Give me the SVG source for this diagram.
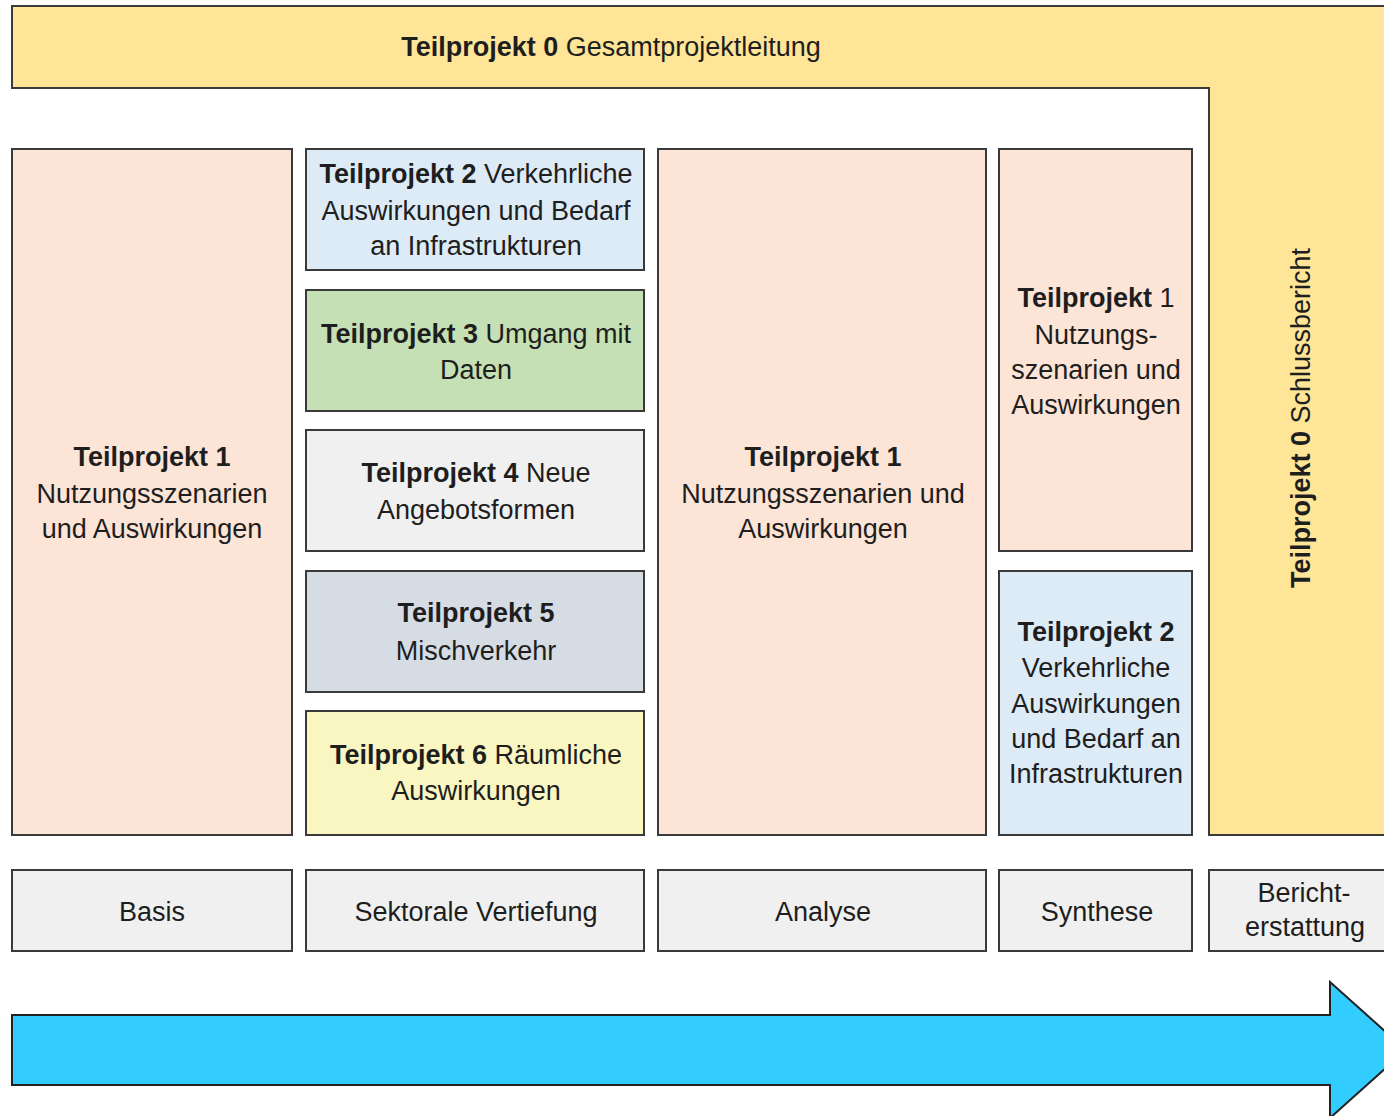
<svg xmlns="http://www.w3.org/2000/svg" width="1384" height="1116" viewBox="0 0 1384 1116">
<style>
text{font-family:"Liberation Sans",Arial,sans-serif;font-size:27px;fill:#1e1e1e;text-anchor:middle}
.b{font-weight:bold}
.box{stroke:#3a3a3a;stroke-width:2}
.peach{fill:#FCE4D6}
.blue{fill:#DDEBF7}
.green{fill:#C5E0B4}
.gray{fill:#F0F0F0}
.slate{fill:#D6DCE4}
.lyel{fill:#FAF6C2}
.yel{fill:#FFE597}
</style>
<rect width="1384" height="1116" fill="#fff"/>
<g id="tp0">
<path d="M1390 6 H12 V88 H1209 V835 H1390" class="box yel"/>
<text x="611" y="56"><tspan class="b">Teilprojekt 0</tspan> Gesamtprojektleitung</text>
<text transform="translate(1310 418) rotate(-90)" x="0" y="0"><tspan class="b">Teilprojekt 0</tspan> Schlussbericht</text>
</g>
<g id="tp1a">
<rect x="12" y="149" width="280" height="686" class="box peach"/>
<text x="152" y="466" class="b">Teilprojekt 1</text>
<text x="152" y="503">Nutzungsszenarien</text>
<text x="152" y="538">und Auswirkungen</text>
</g>
<g id="tp2a">
<rect x="306" y="149" width="338" height="121" class="box blue"/>
<text x="476" y="183"><tspan class="b">Teilprojekt 2</tspan> Verkehrliche</text>
<text x="476" y="220">Auswirkungen und Bedarf</text>
<text x="476" y="255">an Infrastrukturen</text>
</g>
<g id="tp3">
<rect x="306" y="290" width="338" height="121" class="box green"/>
<text x="476" y="343"><tspan class="b">Teilprojekt 3</tspan> Umgang mit</text>
<text x="476" y="379">Daten</text>
</g>
<g id="tp4">
<rect x="306" y="430" width="338" height="121" class="box gray"/>
<text x="476" y="482"><tspan class="b">Teilprojekt 4</tspan> Neue</text>
<text x="476" y="519">Angebotsformen</text>
</g>
<g id="tp5">
<rect x="306" y="571" width="338" height="121" class="box slate"/>
<text x="476" y="622" class="b">Teilprojekt 5</text>
<text x="476" y="660">Mischverkehr</text>
</g>
<g id="tp6">
<rect x="306" y="711" width="338" height="124" class="box lyel"/>
<text x="476" y="764"><tspan class="b">Teilprojekt 6</tspan> Räumliche</text>
<text x="476" y="800">Auswirkungen</text>
</g>
<g id="tp1b">
<rect x="658" y="149" width="328" height="686" class="box peach"/>
<text x="823" y="466" class="b">Teilprojekt 1</text>
<text x="823" y="503">Nutzungsszenarien und</text>
<text x="823" y="538">Auswirkungen</text>
</g>
<g id="tp1c">
<rect x="999" y="149" width="193" height="402" class="box peach"/>
<text x="1096" y="307"><tspan class="b">Teilprojekt</tspan> 1</text>
<text x="1096" y="344">Nutzungs-</text>
<text x="1096" y="379">szenarien und</text>
<text x="1096" y="414">Auswirkungen</text>
</g>
<g id="tp2b">
<rect x="999" y="571" width="193" height="264" class="box blue"/>
<text x="1096" y="641" class="b">Teilprojekt 2</text>
<text x="1096" y="677">Verkehrliche</text>
<text x="1096" y="713">Auswirkungen</text>
<text x="1096" y="748">und Bedarf an</text>
<text x="1096" y="783">Infrastrukturen</text>
</g>
<g id="phase-basis">
<rect x="12" y="870" width="280" height="81" class="box gray"/>
<text x="152" y="921">Basis</text>
</g>
<g id="phase-sektorale">
<rect x="306" y="870" width="338" height="81" class="box gray"/>
<text x="476" y="921">Sektorale Vertiefung</text>
</g>
<g id="phase-analyse">
<rect x="658" y="870" width="328" height="81" class="box gray"/>
<text x="823" y="921">Analyse</text>
</g>
<g id="phase-synthese">
<rect x="999" y="870" width="193" height="81" class="box gray"/>
<text x="1097" y="921">Synthese</text>
</g>
<g id="phase-bericht">
<rect x="1209" y="870" width="190" height="81" class="box gray"/>
<text x="1304" y="902">Bericht-</text>
<text x="1305" y="936">erstattung</text>
</g>
<g id="connectors">
<path d="M12 1015 H1330 V982 L1406 1050 L1330 1118 V1085 H12 Z" fill="#33CCFF" stroke="#222" stroke-width="2"/>
</g>
</svg>
